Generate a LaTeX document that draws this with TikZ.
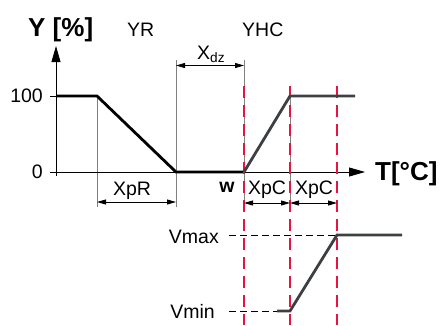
\documentclass[tikz,border=0pt]{standalone}
\usepackage{fontspec}
\setmainfont{Liberation Sans}
\usetikzlibrary{arrows.meta}
\definecolor{redline}{RGB}{232,20,64}
\definecolor{darkline}{RGB}{60,64,67}
\begin{document}
\begin{tikzpicture}[x=1pt,y=-1pt,
  lbl/.style={font=\fontsize{19.5}{22}\selectfont, inner sep=0pt},
  big/.style={font=\fontsize{26}{30}\selectfont\bfseries, inner sep=0pt},
  thinl/.style={line width=0.8pt, black},
  guide/.style={line width=0.9pt, black!50},
  redd/.style={line width=1.8pt, redline, dash pattern=on 12pt off 7pt},
  blk/.style={line width=2.8pt, black},
  dgr/.style={line width=2.8pt, darkline},
  vdash/.style={line width=0.8pt, black, dash pattern=on 7pt off 4pt},
  dimarrow/.style={thinl, {Triangle[length=9pt,width=5pt]}-{Triangle[length=9pt,width=5pt]}},
  axisarrow/.style={thinl, -{Triangle[length=16pt,width=9pt]}},
]
\useasboundingbox (0,0) rectangle (442,325);
% key points
\coordinate (o) at (56,172);
\coordinate (ytop) at (56,46);
\coordinate (xend) at (365,172);
\coordinate (ybot) at (56,176);
\coordinate (xstart) at (50,172);
\coordinate (t100a) at (50,96);
\coordinate (p100) at (56,96);
\coordinate (r1) at (97,96);
\coordinate (r2) at (176,172);
\coordinate (w) at (244,172);
\coordinate (h1) at (290,96);
\coordinate (h2) at (355,96);
% guide lines
\coordinate (g1t) at (97,96);   \coordinate (g1b) at (97,207);
\coordinate (g2t) at (176,60);  \coordinate (g2b) at (176,207);
\coordinate (g3t) at (244,60);  \coordinate (g3b) at (244,207);
\coordinate (g4t) at (290,96);  \coordinate (g4b) at (290,207);
\draw[guide] (g1t) -- (g1b);
\draw[guide] (g2t) -- (g2b);
\draw[guide] (g3t) -- (g3b);
\draw[guide] (g4t) -- (g4b);
% axes
\draw[axisarrow] (ybot) -- (ytop);
\draw[axisarrow] (xstart) -- (xend);
\draw[thinl] (t100a) -- (p100);
% YR curve
\draw[blk, line join=miter] (p100) -- (r1) -- (r2) -- (w);
% red dashed lines
\coordinate (d1t) at (244,86); \coordinate (d1b) at (244,325);
\coordinate (d2t) at (290,86); \coordinate (d2b) at (290,325);
\coordinate (d3t) at (337,86); \coordinate (d3b) at (337,325);
\draw[redd] (d1t) -- (d1b);
\draw[redd] (d2t) -- (d2b);
\draw[redd] (d3t) -- (d3b);
% YHC curve
\draw[dgr, line join=miter] (w) -- (h1) -- (h2);
% dimension arrows
\coordinate (xdzA) at (176,65.5); \coordinate (xdzB) at (244,65.5);
\draw[dimarrow] (xdzA) -- (xdzB);
\coordinate (xprA) at (97,202); \coordinate (xprB) at (176,202);
\draw[dimarrow] (xprA) -- (xprB);
\coordinate (xpc1A) at (244,203); \coordinate (xpc1B) at (290,203);
\draw[dimarrow] (xpc1A) -- (xpc1B);
\coordinate (xpc2A) at (290,203); \coordinate (xpc2B) at (337,203);
\draw[dimarrow] (xpc2A) -- (xpc2B);
% valve curve
\coordinate (vmaxS) at (229,235); \coordinate (vmaxK) at (337,235); \coordinate (vmaxE) at (402,235);
\coordinate (vminS) at (229,311); \coordinate (vminK) at (277,311); \coordinate (vminC) at (290,311);
\draw[vdash] (vmaxS) -- (vmaxK);
\draw[vdash] (vminS) -- (vminK);
\draw[dgr, line join=miter] (vminK) -- (vminC) -- (vmaxK) -- (vmaxE);
% labels
\node[big, anchor=base west] (ylab) at (28,36) {Y [\%]};
\node[lbl, anchor=base west] (yr) at (127,36) {YR};
\node[lbl, anchor=base west] (yhc) at (242,36) {YHC};
\node[lbl, anchor=base west] (xdz) at (197,59) {X\textsubscript{dz}};
\node[lbl, anchor=base east] (l100) at (43,102) {100};
\node[lbl, anchor=base east] (l0) at (43,178) {0};
\node[big, anchor=base west] (tlab) at (375,180) {T[°C]};
\node[lbl, anchor=base] (xpr) at (132,195) {XpR};
\node[lbl, anchor=base, font=\fontsize{19.5}{22}\selectfont\bfseries] (wl) at (227,192) {w};
\node[lbl, anchor=base] (xpc1) at (267,194) {XpC};
\node[lbl, anchor=base] (xpc2) at (314,194) {XpC};
\node[lbl, anchor=base east] (vmax) at (219,243) {Vmax};
\node[lbl, anchor=base east] (vmin) at (215,318) {Vmin};
\end{tikzpicture}
\end{document}
